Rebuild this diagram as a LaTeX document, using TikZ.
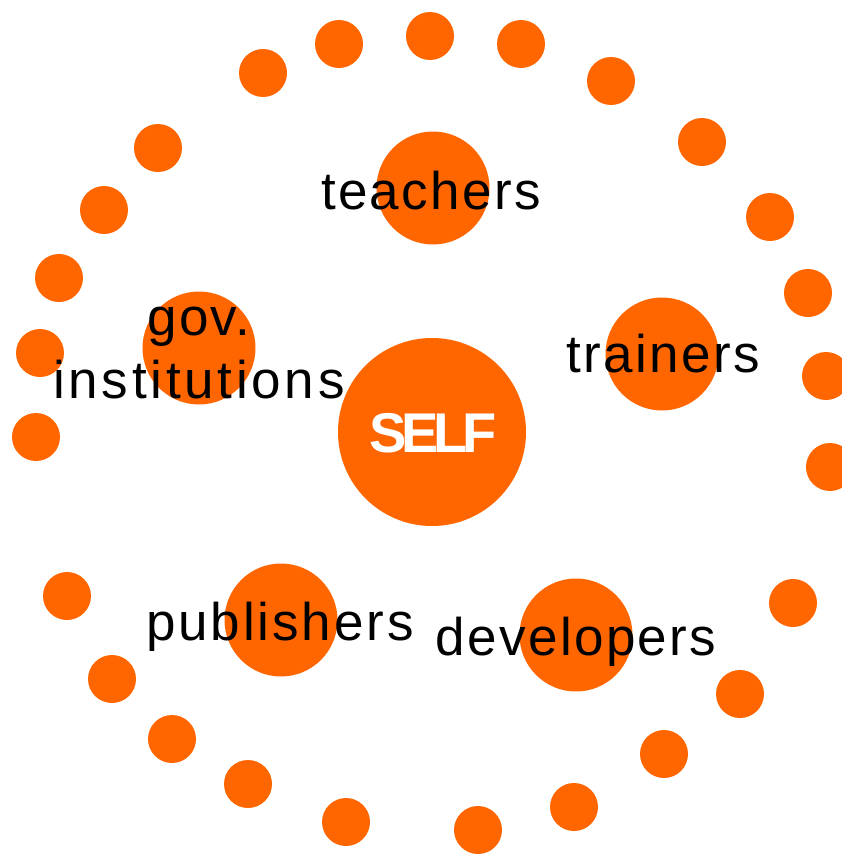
\documentclass[tikz,border=0pt]{standalone}
\usepackage{fontspec}
\setmainfont{Liberation Sans}
\newfontfamily\labfont[LetterSpace=4.5]{Liberation Sans}
\newfontfamily\selfont[LetterSpace=-9]{Liberation Sans Bold}
\definecolor{dotorange}{HTML}{FF6600}
\tikzset{
  dot/.style={circle, fill=dotorange, draw=none, inner sep=0pt, minimum size=48pt},
  group/.style={circle, fill=dotorange, draw=none, inner sep=0pt, minimum size=113pt},
  selfcirc/.style={circle, fill=dotorange, draw=none, inner sep=0pt, minimum size=188pt},
  lab/.style={anchor=base, inner sep=0pt, text=black, font=\labfont\fontsize{53}{63}\selectfont, align=center},
  selflab/.style={anchor=base, inner sep=0pt, text=white, font=\selfont\fontsize{56}{60}\selectfont}
}
\begin{document}
\begin{tikzpicture}[x=1pt, y=-1pt]
\useasboundingbox (0,0) rectangle (842,854);
\clip (0,0) rectangle (842,854);
% outer ring of dots
\foreach \i/\px/\py in {1/263/73, 2/339/44, 3/430/36, 4/521/44, 5/611/81, 6/702/142, 7/770/217, 8/808/293, 9/826/376, 10/830/467,
  11/793/603, 12/740/694, 13/664/754, 14/574/807, 15/478/830, 16/346/822, 17/248/784, 18/172/739, 19/112/679, 20/67/596,
  21/36/437, 22/40/353, 23/59/278, 24/104/210, 25/158/148}
  \node[dot] (d\i) at (\px,\py) {};
% group circles
\node[group] (cteach) at (433,188) {};
\node[group] (ctrain) at (662,354) {};
\node[group] (cgov) at (199,348) {};
\node[group] (cpub) at (281,620) {};
\node[group] (cdev) at (576,635) {};
\node[selfcirc] (cself) at (432,432) {};
% labels
\node[lab] (lteach) at (431,209) {teachers};
\node[lab] (ltrain) at (663,372) {trainers};
\node[lab] (lgov) at (199,398) {gov.\\{\addfontfeature{LetterSpace=7}institutions}};
\node[lab] (lpub) at (280,640) {{\addfontfeature{LetterSpace=5.5}publishers}};
\node[lab] (ldev) at (576,655) {developers};
\node[selflab] (lself) at (433,452) {SELF};
\end{tikzpicture}
\end{document}
